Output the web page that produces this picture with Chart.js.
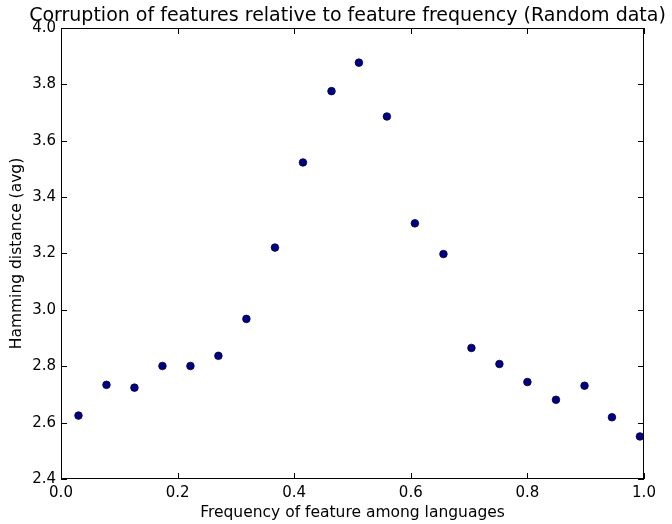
<!DOCTYPE html>
<html>
<head>
<meta charset="utf-8">
<script src="https://cdn.jsdelivr.net/npm/chart.js@4/dist/chart.umd.min.js"></script>
<style>
  body { margin: 0; background: #fff; }
</style>
</head>
<body>
<canvas id="scatter" width="672" height="524"></canvas>
<script>
// feature frequency (x) and average hamming distance (y)
const frequency = [0.030, 0.078, 0.126, 0.174, 0.222, 0.270, 0.318, 0.367, 0.415, 0.464, 0.511,
                   0.559, 0.607, 0.656, 0.704, 0.752, 0.800, 0.849, 0.898, 0.945, 0.993];
const hamming = [2.625, 2.734, 2.724, 2.801, 2.801, 2.837, 2.968, 3.221, 3.523, 3.776, 3.877,
                 3.686, 3.307, 3.198, 2.865, 2.808, 2.744, 2.681, 2.731, 2.619, 2.551];
const xTicks = [0.0, 0.2, 0.4, 0.6, 0.8, 1.0];
const yTicks = [2.4, 2.6, 2.8, 3.0, 3.2, 3.4, 3.6, 3.8, 4.0];
const titleText = 'Corruption of features relative to feature frequency (Random data)';

const points = frequency.map((f, i) => ({ x: f, y: hamming[i] }));

// matplotlib-style frame with ticks pointing inward on all four sides,
// plus the title over the axes (the built-in title squeezes it)
const frameTicks = {
  id: 'frameTicks',
  afterDraw(chart) {
    const { ctx, chartArea: a, scales } = chart;
    const len = 6;
    ctx.save();
    ctx.strokeStyle = '#000';
    ctx.lineWidth = 1;
    ctx.strokeRect(a.left + 0.5, a.top + 0.5, a.right - a.left - 1, a.bottom - a.top - 1);
    ctx.beginPath();
    xTicks.forEach(v => {
      const px = Math.round(scales.x.getPixelForValue(v)) + 0.5;
      ctx.moveTo(px, a.bottom); ctx.lineTo(px, a.bottom - len);
      ctx.moveTo(px, a.top); ctx.lineTo(px, a.top + len);
    });
    yTicks.forEach(v => {
      const py = Math.round(scales.y.getPixelForValue(v)) + 0.5;
      ctx.moveTo(a.left, py); ctx.lineTo(a.left + len, py);
      ctx.moveTo(a.right, py); ctx.lineTo(a.right - len, py);
    });
    ctx.stroke();

    ctx.fillStyle = '#000';
    ctx.font = '19px "DejaVu Sans", sans-serif';
    ctx.textAlign = 'center';
    ctx.textBaseline = 'alphabetic';
    ctx.fillText(titleText, (a.left + a.right) / 2 - 5, 21);
    ctx.restore();
  }
};

Chart.defaults.font.family = '"DejaVu Sans", sans-serif';
Chart.defaults.color = '#000';

new Chart(document.getElementById('scatter').getContext('2d'), {
  type: 'scatter',
  data: {
    datasets: [{
      data: points,
      backgroundColor: '#00008b',
      borderColor: '#000033',
      borderWidth: 0.8,
      pointRadius: 3.8,
      pointHoverRadius: 3.8
    }]
  },
  options: {
    responsive: false,
    animation: false,
    layout: { padding: { left: 0, right: 28, top: 28, bottom: 0 } },
    plugins: {
      legend: { display: false },
      tooltip: { enabled: false },
      title: { display: false }
    },
    scales: {
      x: {
        type: 'linear',
        min: 0, max: 1,
        afterBuildTicks: s => { s.ticks = xTicks.map(v => ({ value: v })); },
        afterFit: s => { s.height = 45; },
        ticks: { font: { size: 15 }, padding: 5, callback: v => v.toFixed(1) },
        grid: { display: false, drawTicks: false },
        border: { display: false },
        title: { display: true, text: 'Frequency of feature among languages', font: { size: 15.5 }, padding: { top: 0, bottom: 2 } }
      },
      y: {
        type: 'linear',
        min: 2.4, max: 4.0,
        afterBuildTicks: s => { s.ticks = yTicks.map(v => ({ value: v })); },
        afterFit: s => { s.width = 61; },
        ticks: { font: { size: 15 }, padding: 5, callback: v => v.toFixed(1) },
        grid: { display: false, drawTicks: false },
        border: { display: false },
        title: { display: true, text: 'Hamming distance (avg)', font: { size: 15.5 }, padding: { top: 8, bottom: 0 } }
      }
    }
  },
  plugins: [frameTicks]
});
</script>
</body>
</html>
